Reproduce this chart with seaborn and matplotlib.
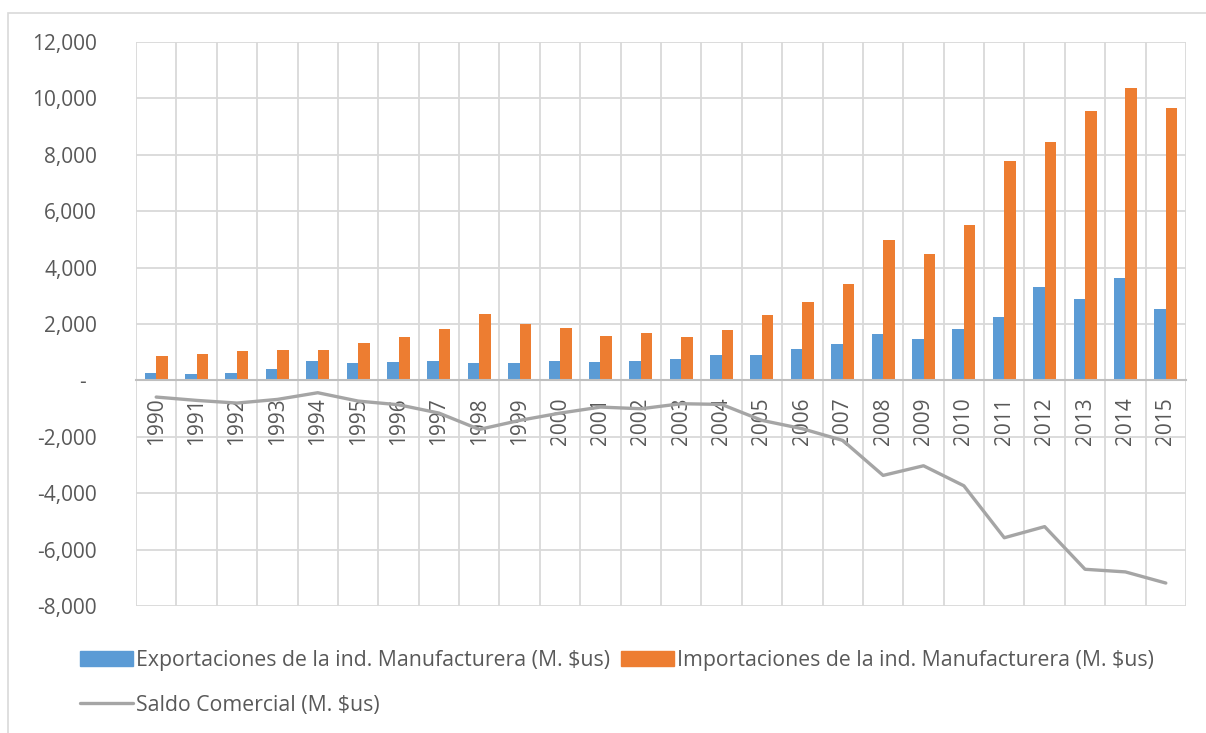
import numpy as np
import pandas as pd
import seaborn as sns
import matplotlib.pyplot as plt
from matplotlib.patches import Rectangle
from matplotlib.ticker import FuncFormatter, MultipleLocator, FixedLocator

years = [str(y) for y in range(1990, 2016)]
exportaciones = [272, 236, 248, 414, 674, 603, 662, 674, 626, 603,
                 686, 662, 697, 745, 910, 910, 1099, 1300, 1632, 1474,
                 1829, 2237, 3316, 2882, 3619, 2527]
importaciones = [851, 946, 1052, 1087, 1087, 1312, 1525, 1808, 2364, 1986,
                 1868, 1560, 1690, 1537, 1773, 2305, 2790, 3425, 4974, 4474,
                 5514, 7790, 8462, 9541, 10370, 9659]
saldo = [-591, -709, -804, -674, -437, -733, -863, -1158, -1738, -1418,
         -1160, -946, -1005, -827, -851, -1418, -1714, -2128, -3369, -3027,
         -3737, -5580, -5185, -6698, -6791, -7186]

lab_exp = "Exportaciones de la ind. Manufacturera (M. $us)"
lab_imp = "Importaciones de la ind. Manufacturera (M. $us)"
lab_sal = "Saldo Comercial (M. $us)"

df = pd.DataFrame({
    "year": years * 2,
    "value": exportaciones + importaciones,
    "serie": [lab_exp] * len(years) + [lab_imp] * len(years),
})

sns.set_style("white")
plt.rcParams["font.family"] = ["Open Sans", "DejaVu Sans"]
txt = "#595959"
fs = 15

fig = plt.figure(figsize=(12.06, 7.33), dpi=100)
ax = fig.add_axes([136 / 1206, 1 - 606 / 733, 1050 / 1206, 564 / 733])

sns.barplot(data=df, x="year", y="value", hue="serie", ax=ax,
            palette=["#5B9BD5", "#ED7D31"], width=0.57, linewidth=0,
            saturation=1, legend=False)
sns.lineplot(x=np.arange(len(years)), y=saldo, ax=ax, color="#A5A5A5",
             linewidth=2.4, label=lab_sal, legend=False)

ax.set_xlim(-0.5, len(years) - 0.5)
ax.set_ylim(-8000, 12000)
ax.yaxis.set_major_locator(MultipleLocator(2000))
ax.yaxis.set_major_formatter(FuncFormatter(lambda v, p: "-  " if v == 0 else f"{v:,.0f}"))
ax.xaxis.set_minor_locator(FixedLocator(np.arange(-0.5, len(years), 1)))
ax.grid(True, axis="y", which="major", color="#D9D9D9", linewidth=1.3)
ax.grid(True, axis="x", which="minor", color="#D9D9D9", linewidth=1.3)
ax.set_axisbelow(True)
for s in ["top", "right", "left"]:
    ax.spines[s].set_visible(False)
ax.spines["bottom"].set_position(("data", 0))
ax.spines["bottom"].set_color("#BFBFBF")
ax.spines["bottom"].set_linewidth(1.5)
ax.spines["bottom"].set_zorder(1.5)
ax.tick_params(axis="x", which="both", length=0, pad=12, labelsize=fs,
               labelcolor=txt, rotation=90)
ax.tick_params(axis="y", length=0, pad=28, labelsize=fs, labelcolor=txt)
ax.set_xlabel("")
ax.set_ylabel("")

h_bars = [Rectangle((0, 0), 1, 1, color="#5B9BD5"), Rectangle((0, 0), 1, 1, color="#ED7D31")]
h_line = plt.Line2D([0], [0], color="#A5A5A5", linewidth=2.4)
fig.legend([h_bars[0], h_line, h_bars[1]], [lab_exp, lab_sal, lab_imp],
           ncol=2, loc="upper left", bbox_to_anchor=(80 / 1206, 1 - 650 / 733),
           frameon=False, fontsize=15.3, labelcolor=txt, handlelength=2.5,
           handleheight=0.67, handletextpad=0.15, columnspacing=0.5,
           labelspacing=1.12, borderaxespad=0, borderpad=0)

fig.patches.append(Rectangle((8 / 1206, -0.1), 1.1, 1.1 - 13 / 733,
                             transform=fig.transFigure, fill=False,
                             edgecolor="#D9D9D9", linewidth=1.2))

fig.savefig("out.png", dpi=100)
